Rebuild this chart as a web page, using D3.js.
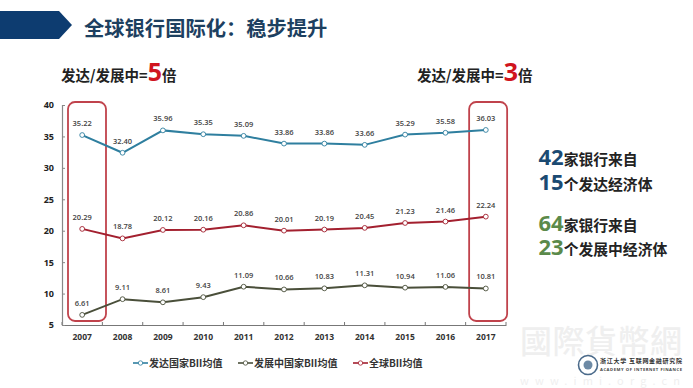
<!DOCTYPE html>
<html>
<head>
<meta charset="utf-8">
<script src="https://cdn.jsdelivr.net/npm/d3@7"></script>
<style>
  html, body { margin: 0; padding: 0; background: #fff; }
  svg { display: block; }
  text { font-family: "Noto Sans CJK SC", "Open Sans", sans-serif; }
  .num { font-family: "Open Sans", "Noto Sans", sans-serif; }
</style>
</head>
<body>
<div id="chart"></div>
<script>
const years = [2007, 2008, 2009, 2010, 2011, 2012, 2013, 2014, 2015, 2016, 2017];
const developed = [35.22, 32.40, 35.96, 35.35, 35.09, 33.86, 33.86, 33.66, 35.29, 35.58, 36.03];
const developing = [6.61, 9.11, 8.61, 9.43, 11.09, 10.66, 10.83, 11.31, 10.94, 11.06, 10.81];
const world = [20.29, 18.78, 20.12, 20.16, 20.86, 20.01, 20.19, 20.45, 21.23, 21.46, 22.24];
const yTicks = [5, 10, 15, 20, 25, 30, 35, 40];
const seriesNames = ['发达国家BII均值', '发展中国家BII均值', '全球BII均值'];
const seriesColors = ['#2f7f9f', '#4a4f3a', '#a3202f'];
const highlightYears = [2007, 2017];

const W = 693, H = 388;
const svg = d3.select('#chart').append('svg').attr('width', W).attr('height', H);

// Header
svg.append('polygon')
  .attr('points', '0,11 59,11 72,25 59,39 0,39')
  .attr('fill', '#0d3c70');
svg.append('text').attr('x', 84).attr('y', 36)
  .attr('font-size', 20.3).attr('font-weight', 700).attr('fill', '#1d4060')
  .text('全球银行国际化：稳步提升');

// Ratio headings
function ratio(x, y, n) {
  const t = svg.append('text').attr('x', x).attr('y', y)
    .attr('font-size', 14.5).attr('font-weight', 700).attr('fill', '#222');
  t.append('tspan').text('发达/发展中=');
  t.append('tspan').attr('class', 'num').attr('font-size', 25).attr('fill', '#d0141e').text(n);
  t.append('tspan').text('倍');
}
ratio(61, 81, '5');
ratio(417, 81, '3');

// Scales
const x = d3.scaleBand().domain(years).range([62, 506]);
const y = d3.scaleLinear().domain([5, 40]).range([325, 105]);
const cx = d => x(d) + x.bandwidth() / 2;

// Axes
const xAxis = svg.append('g').attr('transform', 'translate(0,325)')
  .call(d3.axisBottom(x).tickSize(0).tickPadding(9));
xAxis.selectAll('text').attr('class', 'num').attr('font-size', 8.5).attr('font-weight', 700).attr('fill', '#333');
xAxis.select('.domain').attr('stroke', '#777').attr('stroke-width', 1.2);
xAxis.selectAll('.sep').data(years.concat(['end'])).enter().append('line')
  .attr('x1', (d, i) => 62 + i * x.bandwidth()).attr('x2', (d, i) => 62 + i * x.bandwidth())
  .attr('y1', 0).attr('y2', -3).attr('stroke', '#777');

const yAxis = svg.append('g').attr('transform', 'translate(62,0)')
  .call(d3.axisLeft(y).tickValues(yTicks).tickSize(-3).tickPadding(8));
yAxis.selectAll('text').attr('class', 'num').attr('font-size', 9).attr('font-weight', 700).attr('fill', '#222');
yAxis.select('.domain').attr('stroke', '#888').attr('stroke-width', 1.2);
yAxis.selectAll('.tick line').attr('stroke', '#888');

// Highlight boxes, they sit a bit right of their category in the original
const boxInset = [6, 3.5];
svg.selectAll('.box').data(highlightYears).enter().append('rect')
  .attr('x', (d, i) => x(d) + boxInset[i])
  .attr('y', y(40) - 3)
  .attr('width', 38)
  .attr('height', y(5) - y(40) - 1)
  .attr('rx', 7)
  .attr('fill', 'none').attr('stroke', '#c0434c').attr('stroke-width', 1.8);

// Lines, markers, labels
const line = d3.line().x((d, i) => cx(years[i])).y(d => y(d));
[developed, developing, world].forEach((vals, k) => {
  const g = svg.append('g');
  g.append('path').datum(vals)
    .attr('fill', 'none').attr('stroke', seriesColors[k]).attr('stroke-width', 2)
    .attr('d', line);
  g.selectAll('circle').data(vals).enter().append('circle')
    .attr('cx', (d, i) => cx(years[i])).attr('cy', d => y(d)).attr('r', 2.4)
    .attr('fill', '#fff').attr('stroke', seriesColors[k]).attr('stroke-width', 0.9);
  g.selectAll('text').data(vals).enter().append('text')
    .attr('class', 'num')
    .attr('x', (d, i) => cx(years[i])).attr('y', d => y(d) - 9)
    .attr('text-anchor', 'middle').attr('font-size', 7.5).attr('font-weight', 600).attr('fill', '#444')
    .text(d => d.toFixed(2));
});

// Legend
const legendX = [133, 238, 353];
seriesNames.forEach((name, k) => {
  const g = svg.append('g').attr('transform', `translate(${legendX[k]},363)`);
  g.append('line').attr('x1', 0).attr('x2', 15).attr('stroke', seriesColors[k]).attr('stroke-width', 1.6);
  g.append('circle').attr('cx', 7.5).attr('r', 2.2).attr('fill', '#fff').attr('stroke', seriesColors[k]).attr('stroke-width', 0.8);
  g.append('text').attr('x', 16).attr('y', 4).attr('font-size', 10).attr('font-weight', 700).attr('fill', '#333').text(name);
});

// Side notes
function note(yPos, n, label, color) {
  const t = svg.append('text').attr('x', 538.5).attr('y', yPos)
    .attr('font-size', 14.8).attr('font-weight', 700).attr('fill', '#222');
  t.append('tspan').attr('class', 'num').attr('font-size', 22).attr('fill', color).text(n);
  t.append('tspan').text(label);
}
note(165, '42', '家银行来自', '#1b4a72');
note(190, '15', '个发达经济体', '#1b4a72');
note(231, '64', '家银行来自', '#5b8a4a');
note(255, '23', '个发展中经济体', '#5b8a4a');

// Watermark
svg.append('text').attr('x', 520).attr('y', 353).attr('font-size', 32).attr('font-weight', 500)
  .style('font-family', '"Noto Sans CJK TC"')
  .attr('fill', '#efefef').attr('textLength', 162).text('國際貨幣網');
svg.append('text').attr('x', 520).attr('y', 385).attr('font-size', 11)
  .attr('fill', '#efefef').attr('textLength', 160).text('www.imi.org.cn');

// Institute mark
const logo = svg.append('g').attr('transform', 'translate(588,365)');
logo.append('circle').attr('r', 9.5).attr('fill', '#fff').attr('stroke', '#4a6a8a').attr('stroke-width', 1.6);
logo.append('circle').attr('r', 4.5).attr('fill', '#6d8aa5');
svg.append('text').attr('x', 600).attr('y', 363).attr('font-size', 6).attr('font-weight', 700).attr('fill', '#333')
  .attr('textLength', 82).text('浙江大学 互联网金融研究院');
svg.append('text').attr('x', 600).attr('y', 371).attr('class', 'num').attr('font-size', 4.2).attr('font-weight', 700).attr('fill', '#444')
  .attr('textLength', 82).text('ACADEMY OF INTERNET FINANCE');
</script>
</body>
</html>
